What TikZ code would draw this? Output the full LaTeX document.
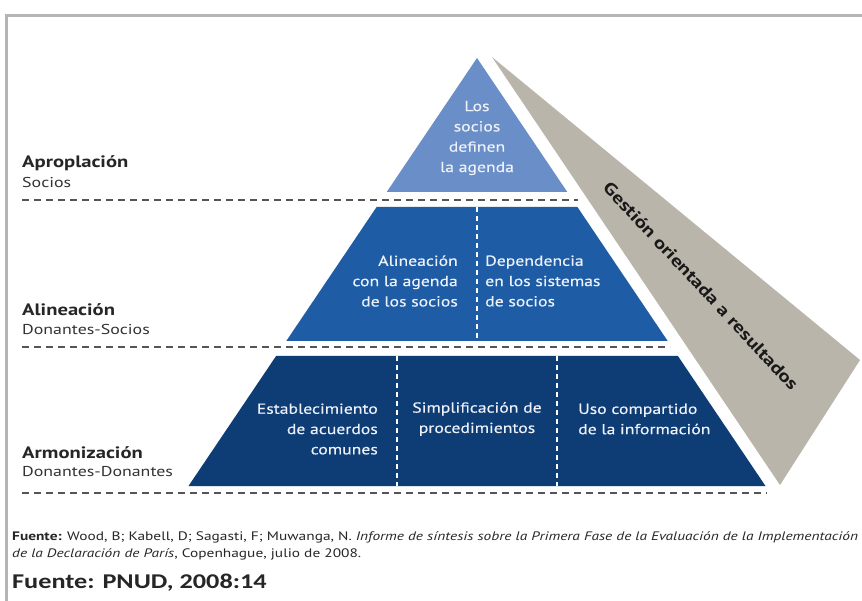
\documentclass[tikz,border=0pt]{standalone}
\usepackage{fontspec}
\setmainfont{PT Sans}[FakeStretch=1.25]
\newfontfamily\innerfont{PT Sans}[FakeStretch=1.22, FakeBold=0.35]
\newfontfamily\calfont{Carlito}[FakeStretch=1.25]
\definecolor{topblue}{HTML}{6A8FC8}
\definecolor{midblue}{HTML}{1F5CA6}
\definecolor{botblue}{HTML}{0E3D76}
\definecolor{bandgray}{HTML}{BAB5AA}
\definecolor{dashgray}{HTML}{555555}
\definecolor{framegray}{HTML}{B5B5B5}
\definecolor{intxt}{HTML}{EEF2F8}
\begin{document}
\begin{tikzpicture}[x=1pt,y=-1pt,
  sepline/.style={dashgray, line width=1.6pt, dash pattern=on 7pt off 5pt},
  divline/.style={white, line width=1.2pt, dash pattern=on 5pt off 4pt},
  intext/.style={text=intxt, font=\innerfont\fontsize{14.5}{20.3}\selectfont, inner sep=0pt},
  lvl/.style={anchor=west, inner sep=0pt, font=\fontsize{16.5}{18}\selectfont\bfseries, text=black!85},
  sublvl/.style={anchor=west, inner sep=0pt, font=\fontsize{14.3}{16}\selectfont, text=black!80}]
\useasboundingbox (0,0) rectangle (862,601);
\fill[white] (0,0) rectangle (862,601);
\draw[framegray, line width=3pt] (6,601) -- (6,16) -- (862,16);

% pyramid geometry
\coordinate (apex) at (477,58);
\coordinate (t1) at (567.3,192); \coordinate (t2) at (386.7,192);
\coordinate (m1) at (376.6,207); \coordinate (m2) at (577.4,207);
\coordinate (m3) at (667.7,341); \coordinate (m4) at (286.3,341);
\coordinate (b1) at (276.1,356); \coordinate (b2) at (677.9,356);
\coordinate (b3) at (765.5,486); \coordinate (b4) at (188.5,486);
\coordinate (g1) at (492,57); \coordinate (g2) at (860,360); \coordinate (g3) at (780,485);

\fill[bandgray] (g1) -- (g2) -- (g3) -- cycle;
\fill[topblue] (apex) -- (t1) -- (t2) -- cycle;
\fill[midblue] (m1) -- (m2) -- (m3) -- (m4) -- cycle;
\fill[botblue] (b1) -- (b2) -- (b3) -- (b4) -- cycle;

% dividers
\coordinate (d1a) at (477,207); \coordinate (d1b) at (477,341);
\coordinate (d2a) at (397,356); \coordinate (d2b) at (397,486);
\coordinate (d3a) at (557,356); \coordinate (d3b) at (557,486);
\draw[divline] (d1a) -- (d1b);
\draw[divline] (d2a) -- (d2b);
\draw[divline] (d3a) -- (d3b);

% separators
\coordinate (s1a) at (22,200); \coordinate (s1b) at (578,200);
\coordinate (s2a) at (22,347); \coordinate (s2b) at (670,347);
\coordinate (s3a) at (22,493); \coordinate (s3b) at (767,493);
\draw[sepline] (s1a) -- (s1b);
\draw[sepline] (s2a) -- (s2b);
\draw[sepline] (s3a) -- (s3b);

% texts in pyramid
\node[intext, align=center] (ttop) at (477,138) {Los\\socios\\definen\\la agenda};
\node[intext, align=right, anchor=east] (tml) at (458,281) {Alineación\\con la agenda\\de los socios};
\node[intext, align=left, anchor=west] (tmr) at (485,281) {Dependencia\\en los sistemas\\de socios};
\node[intext, align=right, anchor=east] (tbl) at (378,429) {Establecimiento\\de acuerdos\\comunes};
\node[intext, align=center] (tbm) at (477,419) {Simplificación de\\procedimientos};
\node[intext, align=left, anchor=west] (tbr) at (578,419) {Uso compartido\\de la información};

% band text
\node[rotate=-47, inner sep=0pt, font=\fontsize{17}{17}\selectfont\bfseries, text=black!90] (band) at (701,286) {Gestión orientada a resultados};

% level labels
\node[lvl] (l1) at (22,163) {Aproplación};
\node[sublvl] (l1s) at (22,182) {Socios};
\node[lvl] (l2) at (22,310) {Alineación};
\node[sublvl] (l2s) at (22,329) {Donantes-Socios};
\node[lvl] (l3) at (22,453) {Armonización};
\node[sublvl] (l3s) at (22,472) {Donantes-Donantes};

% footer
\node[anchor=base west, inner sep=0pt, font=\fontsize{12.3}{14}\selectfont, text=black!85] (f1) at (12,540) {\textbf{Fuente:} Wood, B; Kabell, D; Sagasti, F; Muwanga, N. \textit{Informe de síntesis sobre la Primera Fase de la Evaluación de la Implementación}};
\node[anchor=base west, inner sep=0pt, font=\fontsize{12.3}{14}\selectfont, text=black!85] (f2) at (12,557) {\textit{de la Declaración de París}, Copenhague, julio de 2008.};
\node[anchor=base west, inner sep=0pt, font=\calfont\fontsize{21}{23}\selectfont\bfseries, text=black!85] (f3) at (12,588) {Fuente: PNUD, 2008:14};
\end{tikzpicture}
\end{document}
